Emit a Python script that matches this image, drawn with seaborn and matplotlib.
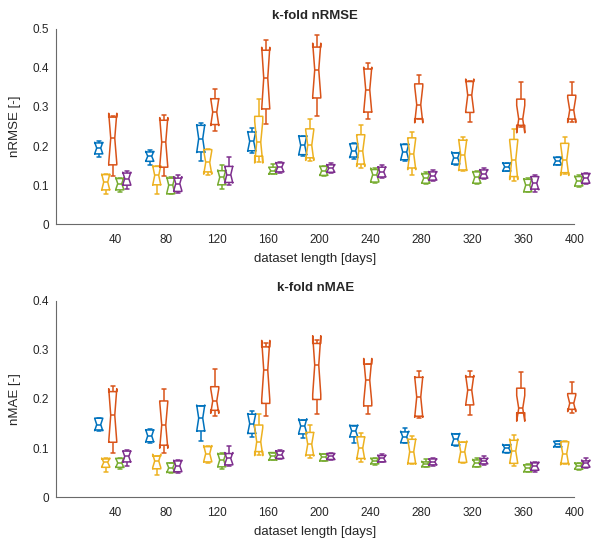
import numpy as np
import pandas as pd
import seaborn as sns
import matplotlib
matplotlib.use("Agg")
import matplotlib.pyplot as plt

# dataset lengths (days)
lengths = [40, 80, 120, 160, 200, 240, 280, 320, 360, 400]
series = ["A", "B", "C", "D", "E"]  # blue, yellow, orange, green, purple (left to right)
colors = ["#0072BD", "#EDB120", "#D95319", "#77AC30", "#7E2F8E"]
offsets = [-13.0, -7.5, -2.0, 3.5, 9.0]

# box summaries per length: (min, q1, median, q3, max)
rmse_blue = [(.173, .180, .195, .208, .212), (.152, .161, .174, .185, .189), (.161, .185, .219, .253, .258),
             (.182, .188, .212, .236, .246), (.174, .178, .202, .225, .227), (.168, .172, .188, .206, .207),
             (.163, .165, .185, .204, .206), (.152, .154, .170, .183, .183), (.135, .136, .147, .156, .157),
             (.151, .152, .162, .171, .172)]
rmse_yellow = [(.078, .088, .108, .127, .129), (.078, .101, .125, .148, .150), (.127, .134, .158, .191, .192),
               (.159, .174, .210, .276, .320), (.163, .170, .202, .244, .270), (.144, .154, .187, .229, .255),
               (.127, .144, .180, .221, .235), (.136, .139, .177, .215, .224), (.111, .122, .164, .217, .243),
               (.129, .132, .164, .207, .224)]
rmse_orange = [(.124, .152, .220, .274, .276), (.124, .146, .210, .266, .279), (.238, .255, .287, .321, .346),
               (.257, .295, .374, .445, .470), (.276, .323, .395, .453, .483), (.269, .287, .344, .397, .412),
               (.268, .270, .306, .359, .381), (.261, .286, .330, .365, .366), (.250, .253, .269, .320, .365),
               (.261, .269, .292, .330, .363)]
rmse_green = [(.083, .088, .104, .117, .118), (.078, .078, .100, .118, .120), (.090, .101, .120, .137, .151),
              (.128, .129, .137, .146, .154), (.124, .125, .137, .148, .150), (.106, .108, .127, .140, .144),
              (.104, .105, .118, .129, .134), (.103, .105, .120, .134, .136), (.082, .083, .100, .115, .119),
              (.096, .098, .111, .122, .126)]
rmse_purple = [(.091, .100, .117, .131, .137), (.080, .084, .104, .118, .125), (.101, .107, .127, .148, .172),
               (.132, .134, .146, .157, .159), (.132, .133, .143, .152, .157), (.119, .121, .134, .146, .152),
               (.111, .113, .124, .134, .139), (.116, .118, .129, .139, .145), (.083, .090, .105, .122, .126),
               (.104, .105, .118, .129, .132)]

mae_blue = [(.135, .137, .148, .161, .162), (.110, .113, .125, .137, .138), (.114, .135, .161, .186, .186),
            (.123, .130, .150, .169, .175), (.120, .129, .145, .157, .158), (.111, .123, .135, .146, .146),
            (.110, .111, .123, .133, .140), (.104, .106, .118, .129, .129), (.091, .091, .100, .106, .107),
            (.102, .103, .108, .114, .115)]
mae_yellow = [(.052, .061, .071, .078, .079), (.045, .058, .074, .084, .084), (.070, .072, .089, .103, .104),
              (.086, .093, .113, .147, .169), (.079, .086, .108, .132, .147), (.071, .079, .100, .123, .131),
              (.067, .069, .093, .118, .125), (.070, .071, .093, .112, .112), (.064, .069, .094, .116, .127),
              (.067, .069, .089, .113, .115)]
mae_orange = [(.091, .112, .167, .215, .227), (.091, .106, .147, .196, .220), (.166, .177, .196, .225, .262),
              (.166, .191, .259, .306, .313), (.169, .199, .269, .313, .320), (.169, .186, .238, .271, .272),
              (.162, .165, .204, .244, .257), (.167, .188, .218, .245, .257), (.171, .172, .181, .222, .254),
              (.171, .179, .191, .211, .234)]
mae_green = [(.057, .061, .070, .079, .079), (.050, .051, .060, .070, .070), (.058, .062, .076, .088, .091),
             (.075, .076, .083, .091, .091), (.074, .074, .082, .088, .089), (.066, .068, .074, .079, .080),
             (.061, .062, .068, .072, .078), (.061, .062, .070, .076, .079), (.051, .052, .059, .066, .068),
             (.056, .057, .064, .069, .070)]
mae_purple = [(.064, .072, .083, .094, .096), (.050, .052, .064, .074, .076), (.064, .066, .079, .089, .105),
              (.078, .079, .087, .094, .096), (.076, .077, .083, .089, .090), (.071, .072, .079, .085, .089),
              (.064, .066, .072, .078, .079), (.066, .068, .074, .079, .084), (.052, .055, .064, .070, .072),
              (.060, .061, .069, .074, .079)]

x_ticks = [40, 80, 120, 160, 200, 240, 280, 320, 360, 400]
titles = ["k-fold nRMSE", "k-fold nMAE"]
ylabels = ["nRMSE [-]", "nMAE [-]"]
xlabel = "dataset length [days]"


def build_frame(groups):
    rows = []
    for s, off, summ in zip(series, offsets, groups):
        for L, (mn, q1, md, q3, mx) in zip(lengths, summ):
            # nine observations reproducing the read-off quartiles
            for v in (mn, q1, q1, md, md, md, q3, q3, mx):
                rows.append({"pos": L + off, "series": s, "value": v})
    return pd.DataFrame(rows)


sns.set_theme(style="white")
plt.rcParams["font.family"] = ["Liberation Sans", "DejaVu Sans"]

fig = plt.figure(figsize=(5.94, 5.46), dpi=100)
ax1 = fig.add_axes([0.0943, 0.5892, 0.8725, 0.3582])
ax2 = fig.add_axes([0.0943, 0.0892, 0.8725, 0.3601])

panels = [
    (ax1, [rmse_blue, rmse_yellow, rmse_orange, rmse_green, rmse_purple], 0.5, np.arange(0, 0.51, 0.1)),
    (ax2, [mae_blue, mae_yellow, mae_orange, mae_green, mae_purple], 0.4, np.arange(0, 0.41, 0.1)),
]

axis_col = "#6a6a6a"
text_col = "#262626"

for i, (ax, groups, ymax, yt) in enumerate(panels):
    df = build_frame(groups)
    sns.boxplot(data=df, x="pos", y="value", hue="series", hue_order=series,
                palette=colors, native_scale=True, dodge=False, fill=False,
                notch=True, whis=(0, 100), width=1.15, linewidth=1.1,
                legend=False, ax=ax)
    for art in ax.get_children():
        try:
            art.set_clip_on(False)
        except Exception:
            pass
    ax.set_xlim(-6.5, 400)
    ax.set_ylim(0, ymax)
    ax.set_xticks(x_ticks)
    ax.set_xticklabels([str(t) for t in x_ticks])
    ax.set_yticks(yt)
    ax.set_yticklabels(["0"] + [f"{v:.1f}" for v in yt[1:]])
    ax.tick_params(direction="in", length=4, width=0.8, colors=axis_col,
                   labelcolor=text_col, labelsize=8.5, pad=5)
    ax.tick_params(axis="x", pad=7)
    for side in ["top", "right"]:
        ax.spines[side].set_visible(False)
    for side in ["left", "bottom"]:
        ax.spines[side].set_color(axis_col)
        ax.spines[side].set_linewidth(0.8)
    ax.set_xlabel(xlabel, fontsize=9.5, color=text_col, labelpad=5)
    ax.set_ylabel(ylabels[i], fontsize=9.5, color=text_col, labelpad=8)
    ax.set_title(titles[i], fontsize=9.5, fontweight="bold", color=text_col, pad=7)

fig.savefig("out.png", dpi=100)
